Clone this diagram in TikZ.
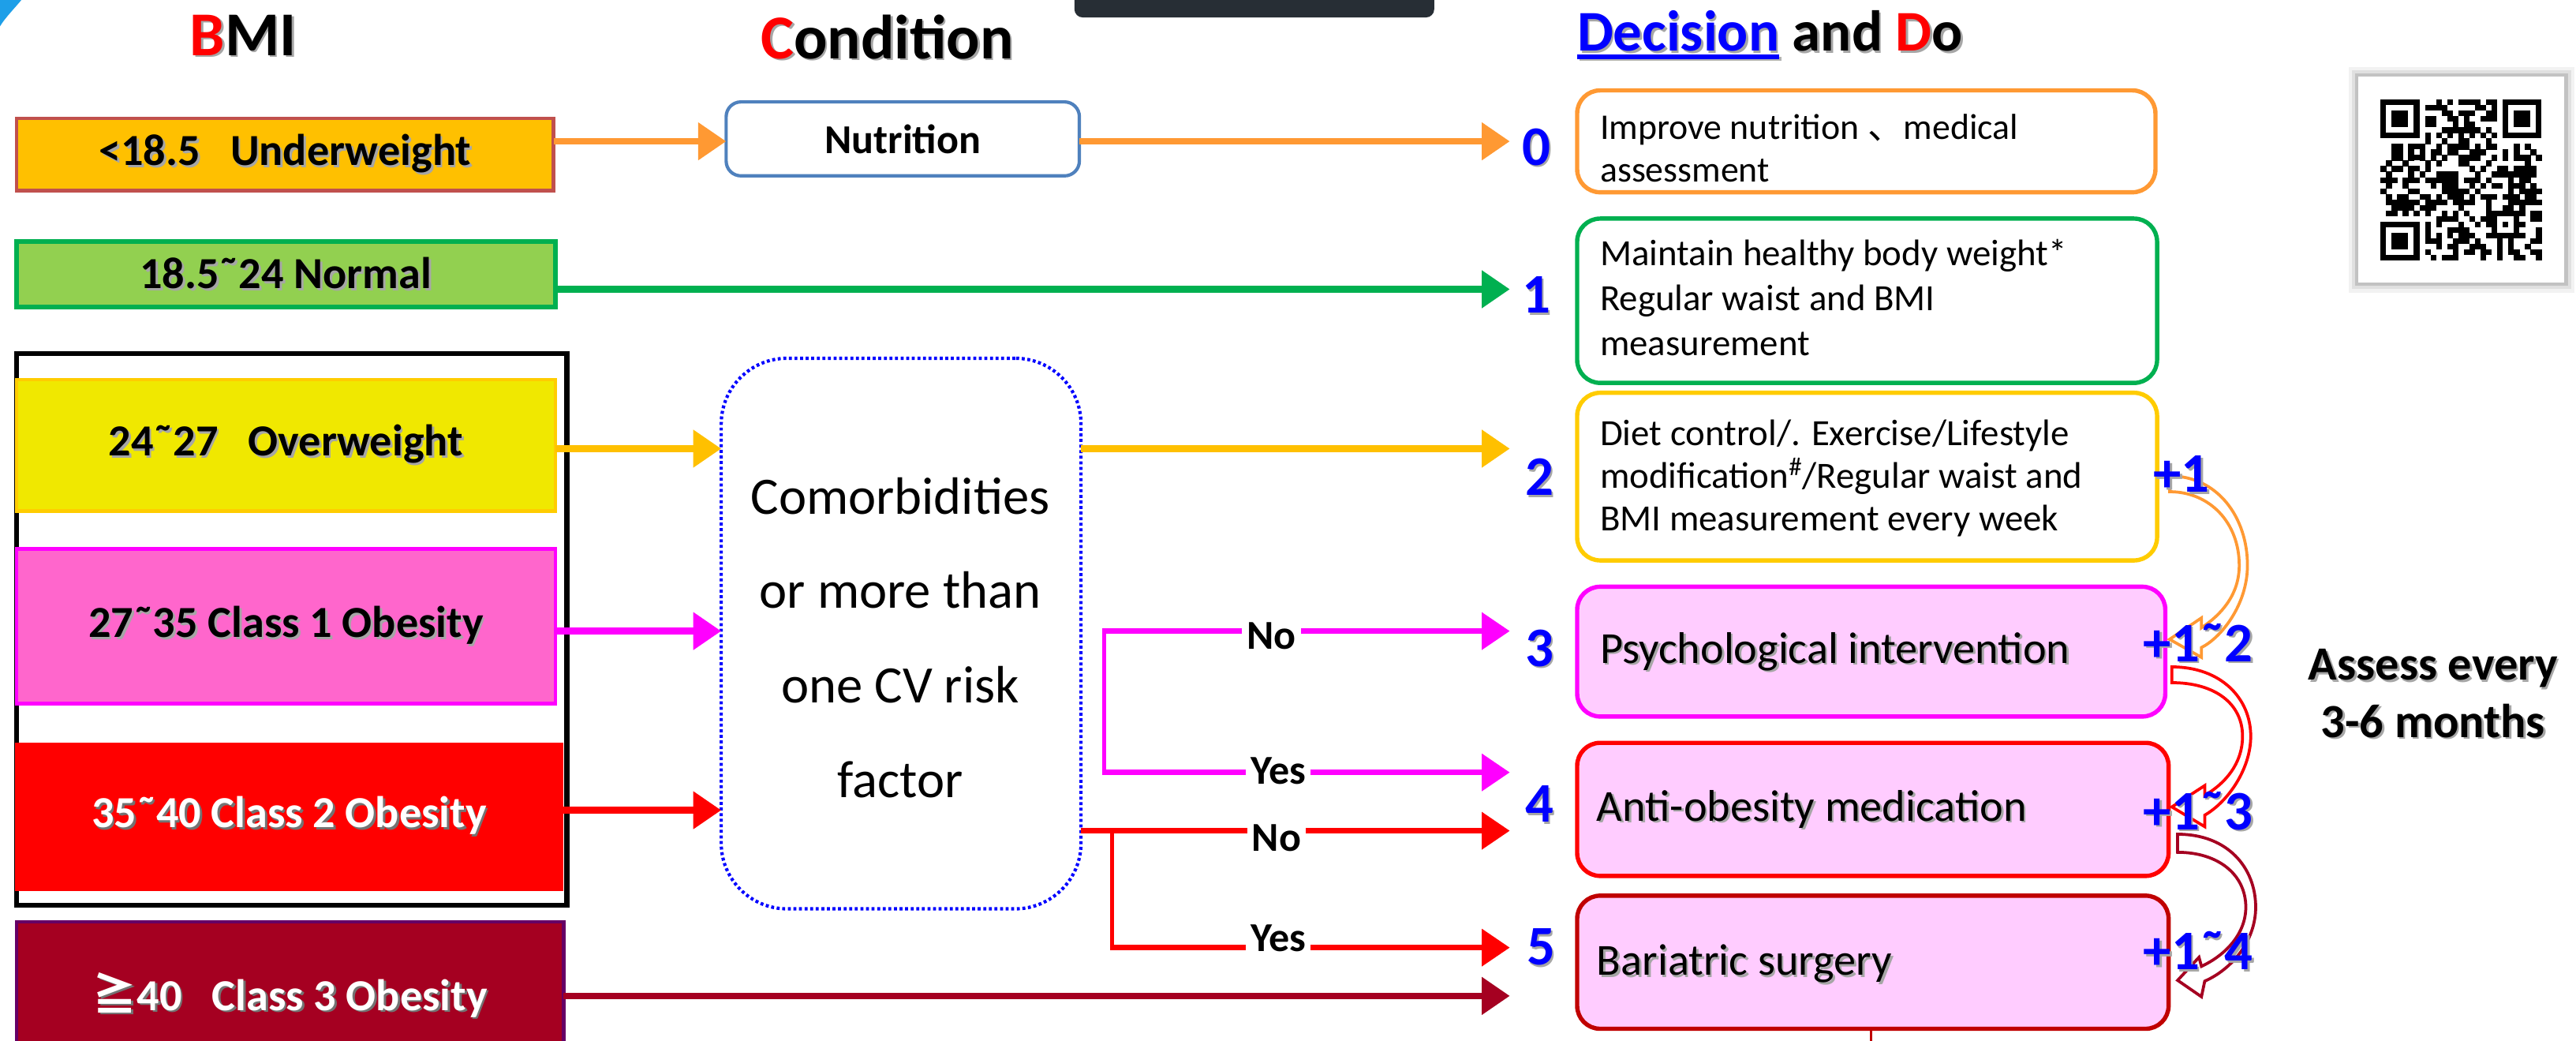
\documentclass[tikz,border=0pt]{standalone}
\usepackage{fontspec}
\setmainfont{Carlito}
\newfontfamily\cjk{Noto Sans CJK SC}
\usetikzlibrary{arrows.meta}

\definecolor{uwFill}{HTML}{FFC000}
\definecolor{uwLine}{HTML}{C0504D}
\definecolor{nmFill}{HTML}{92D050}
\definecolor{nmLine}{HTML}{00B050}
\definecolor{owFill}{HTML}{F0E800}
\definecolor{owLine}{HTML}{FFCC00}
\definecolor{cAFill}{HTML}{FF66CC}
\definecolor{cALine}{HTML}{FF00FF}
\definecolor{cBFill}{HTML}{FF0000}
\definecolor{cCFill}{HTML}{A50021}
\definecolor{cCLine}{HTML}{660066}
\definecolor{nutLine}{HTML}{4F81BD}
\definecolor{orangeArr}{HTML}{FF9933}
\definecolor{yellowArr}{HTML}{FFC000}
\definecolor{pinkFill}{HTML}{FFCCFF}
\definecolor{surgLine}{HTML}{C00000}
\definecolor{barDark}{HTML}{272E35}
\definecolor{numBlue}{HTML}{0000FF}
\definecolor{cornerCyan}{HTML}{1E9FE8}

% font size helper
\newcommand\fs[2]{\fontsize{#1}{#2}\selectfont}
% coloured piece of text (colour dropped inside a shadow copy)
\newcommand\tcol[2]{\textcolor{#1}{#2}}
% text with a soft drop shadow
\newcommand\shd[2][black!35]{\leavevmode\rlap{\kern1.3pt\raisebox{-1.3pt}{\color{#1}\renewcommand\tcol[2]{##2}#2}}#2}

\begin{document}
\begin{tikzpicture}[x=1pt,y=-1pt,
  every node/.style={inner sep=0pt, outer sep=0pt},
  bmibox/.style={draw, line width=2.2pt, anchor=north west, font=\bfseries\fs{27}{32}},
  decbox/.style={draw, line width=2.6pt, rounded corners=14pt, anchor=north west, fill=#1},
  decbox/.default=white,
  arr/.style={line width=4pt, -{Triangle[length=17pt,width=22pt]}},
  brarr/.style={line width=3.5pt, -{Triangle[length=17pt,width=22pt]}},
  yn/.style={fill=white, inner xsep=3pt, inner ysep=1pt, font=\bfseries\fs{25}{30}},
  numlbl/.style={font=\bfseries\fs{34}{40}, text=numBlue},
  hdr/.style={font=\bfseries\fs{38}{44}},
  stepup/.style={line width=1.8pt, line join=miter}]

\useasboundingbox (0,0) rectangle (1568,633);
\fill[white] (0,0) rectangle (1568,633);

% window decorations
\fill[cornerCyan] (0,0) -- (13,0) .. controls (8,6) and (3,11) .. (0,16) -- cycle;
\fill[barDark, rounded corners=5pt] (654,-12) rectangle (873,10.6);

% ---- headers
\node[hdr] (hBMI) at (148,22) {\shd{\tcol{red}{B}MI}};
\node[hdr] (hCond) at (540,23) {\shd{\tcol{red}{C}ondition}};
\node[hdr, font=\bfseries\fs{35}{40}, anchor=base west] (hDecA) at (960,31) {\shd{\tcol{blue}{Decision}}};
\node[hdr, font=\bfseries\fs{35}{40}, anchor=base west] (hDecB) at ([xshift=8pt]hDecA.base east) {\shd{and \tcol{red}{D}o}};
\draw[black!30, line width=2.6pt] ([xshift=1.3pt,yshift=-4.8pt]hDecA.base west) -- ([xshift=1.3pt,yshift=-4.8pt]hDecA.base east);
\draw[blue, line width=2.6pt] ([yshift=-3.5pt]hDecA.base west) -- ([yshift=-3.5pt]hDecA.base east);

% ---- BMI column
\node[draw, line width=3pt, minimum width=335pt, minimum height=336pt, anchor=north west] (frame) at (10,215) {};
\node[bmibox, fill=uwFill, draw=uwLine, minimum width=327pt, minimum height=44pt] (uw) at (10,72) {\shd{<18.5\ \ \ Underweight}};
\node[bmibox, fill=nmFill, draw=nmLine, line width=2.8pt, minimum width=328pt, minimum height=40pt] (nm) at (10,147) {\shd{18.5˜24 Normal}};
\node[bmibox, fill=owFill, draw=owLine, minimum width=328pt, minimum height=80pt] (ow) at (10,231) {\shd{24˜27\ \ \ Overweight}};
\node[bmibox, fill=cAFill, draw=cALine, minimum width=328pt, minimum height=94pt] (cA) at (10,334) {\shd{27˜35 Class 1 Obesity}};
\node[bmibox, fill=cBFill, draw=cBFill, text=white, minimum width=332pt, minimum height=88pt] (cB) at (10,453) {\shd[black!55]{35˜40 Class 2 Obesity}};
\node[bmibox, fill=cCFill, draw=cCLine, text=white, minimum width=333pt, minimum height=90pt] (cC) at (10,561) {\shd[black!55]{{\cjk ≧}40\ \ \ Class 3 Obesity}};

% ---- condition column
\node[draw=nutLine, line width=2pt, rounded corners=9pt, minimum width=215pt, minimum height=45pt, anchor=north west, font=\bfseries\fs{25}{30}] (nut) at (442,62) {Nutrition};
\node[draw=blue, line width=2pt, dash pattern=on 1.8pt off 1.6pt, rounded corners=40pt, minimum width=219pt, minimum height=335pt, anchor=north west] (como) at (439,218) {};
\node[align=center, font=\fs{32}{57.5}] (comoT) at (548,388) {Comorbidities\\or more than\\one CV risk\\factor};

% ---- decision boxes
\node[decbox, draw=orangeArr, minimum width=352pt, minimum height=62pt] (d0) at (960,55) {};
\node[decbox, draw=nmLine, minimum width=353pt, minimum height=100pt] (d1) at (960,133) {};
\node[decbox, draw=owLine, minimum width=353pt, minimum height=102pt] (d2) at (960,239) {};
\node[decbox=pinkFill, draw=cALine, minimum width=358pt, minimum height=79pt] (d3) at (960,357) {};
\node[decbox=pinkFill, draw=red, minimum width=360pt, minimum height=81pt] (d4) at (960,452) {};
\node[decbox=pinkFill, draw=surgLine, minimum width=360pt, minimum height=81pt] (d5) at (960,545) {};
\coordinate (d5tail) at (1139,640);
\draw[surgLine, line width=1.6pt] (d5.south -| d5tail) -- (d5tail);

\node[anchor=west, align=left, font=\fs{22}{26}] (d0t) at (974,90) {Improve nutrition {\cjk 、}medical\\assessment};
\node[anchor=west, align=left, font=\fs{22.5}{27.5}] (d1t) at (974,181) {Maintain healthy body weight*\\Regular waist and BMI\\measurement};
\node[anchor=west, align=left, font=\fs{22.5}{26}] (d2t) at (974,291) {Diet control/. Exercise/Lifestyle\\modification\textsuperscript{\#}/Regular waist and\\BMI measurement every week};
\node[anchor=west, font=\fs{27}{31}] (d3t) at (974,397) {\shd{Psychological intervention}};
\node[anchor=west, font=\fs{27}{31}] (d4t) at (972,493) {\shd{Anti-obesity medication}};
\node[anchor=west, font=\fs{27}{31}] (d5t) at (972,587) {\shd{Bariatric surgery}};

% ---- level numbers
\node[numlbl] (n0) at (935,90) {\shd{0}};
\node[numlbl] (n1) at (935,180) {\shd{1}};
\node[numlbl] (n2) at (937,291) {\shd{2}};
\node[numlbl] (n3) at (937,395) {\shd{3}};
\node[numlbl] (n4) at (937,490) {\shd{4}};
\node[numlbl] (n5) at (938,577) {\shd{5}};

% ---- connectors
\coordinate (tipx) at (919,0);
\coordinate (uwOut) at ([yshift=8pt]uw.east);
\coordinate (nmOut) at ([yshift=-9pt]nm.east);
\coordinate (owOut) at ([yshift=-2pt]ow.east);
\coordinate (cAOut) at ([yshift=-3pt]cA.east);
\coordinate (cBOut) at ([yshift=4pt]cB.east);

\draw[arr, orangeArr] (uwOut) -- (uwOut -| nut.west);
\draw[arr, orangeArr] (uwOut -| nut.east) -- (uwOut -| tipx);
\draw[arr, nmLine] (nmOut) -- (nmOut -| tipx);
\draw[arr, yellowArr] (owOut) -- (owOut -| como.west);
\draw[arr, yellowArr] (owOut -| como.east) -- (owOut -| tipx);
\draw[arr, cALine] (cAOut) -- (cAOut -| como.west);
\draw[arr, red] (cBOut) -- (cBOut -| como.west);
\draw[arr, cCFill] (cC.east) -- (cC.east -| tipx);

% branch after the comorbidity check (class 1)
\coordinate (mgTop) at (672,384);
\coordinate (mgBot) at (672,470);
\draw[line width=2.5pt, cALine] (mgTop) -- (mgBot);
\draw[brarr, cALine] ([xshift=-1.25pt]mgTop) -- (mgTop -| tipx);
\draw[brarr, cALine] ([xshift=-1.25pt]mgBot) -- (mgBot -| tipx);
\node[yn] (noA) at (774,387) {No};
\node[yn] (yesA) at (778,469) {Yes};

% branch after the comorbidity check (class 2)
\coordinate (rdTop) at (677,505.5);
\coordinate (rdBot) at (677,576.6);
\draw[line width=2.5pt, red] (rdTop) -- (rdBot);
\draw[brarr, red] (rdTop -| como.east) -- (rdTop -| tipx);
\draw[brarr, red] ([xshift=-1.25pt]rdBot) -- (rdBot -| tipx);
\node[yn] (noB) at (777,510) {No};
\node[yn] (yesB) at (778,571) {Yes};

% ---- step-up curved arrows
\draw[stepup, orangeArr] (1320.6,289.6) .. controls (1350,289.6) and (1368,315) .. (1368,344)
  .. controls (1368,368) and (1352,388) .. (1340,394) -- (1340,400) -- (1320.6,389) -- (1340,376) -- (1340,382)
  .. controls (1352,374) and (1363,362) .. (1363,344) .. controls (1363,318) and (1345,299.2) .. (1320.6,299.2) -- cycle;
\draw[stepup, red] (1322,405.8) .. controls (1352,405.8) and (1370,425) .. (1370,448)
  .. controls (1370,468) and (1356,488) .. (1342,496) -- (1342,503) -- (1322,491) -- (1342,478) -- (1342,484)
  .. controls (1354,477) and (1365,465) .. (1365,448) .. controls (1365,428) and (1348,415.4) .. (1322,415.4) -- cycle;
\draw[stepup, cCFill] (1325.5,507.6) .. controls (1356,507.6) and (1373,528) .. (1373,552)
  .. controls (1373,573) and (1358,590) .. (1342,597) -- (1340,606.5) -- (1325.5,596.5) -- (1338.5,582.5) -- (1340,588)
  .. controls (1355,581) and (1367,568) .. (1367,552) .. controls (1367,532) and (1350,518.6) .. (1325.5,518.6) -- cycle;

\node[numlbl] (p1) at (1328,289) {\shd{+1}};
\node[numlbl] (p2) at (1338,391.5) {\shd{+1˜2}};
\node[numlbl] (p3) at (1338,494) {\shd{+1˜3}};
\node[numlbl] (p4) at (1338,579) {\shd{+1˜4}};

\node[align=center, font=\bfseries\fs{29}{35}] (assess) at (1481,422.5) {\shd{Assess every}\\\shd{3-6 months}};

% ---- QR card
\fill[black!5] (1429.5,40.6) rectangle (1567,178);
\fill[black!12] (1431.5,42.6) rectangle (1565,176);
\fill[black!24] (1433.5,44.6) rectangle (1563,174);
\fill[white] (1435.5,46.6) rectangle (1561,172);
\def\qx{1449}\def\qy{60.5}\def\qm{3.38}
\pgfmathsetseed{7}
\foreach \i in {0,...,28}{\foreach \j in {0,...,28}{
  \pgfmathtruncatemacro\qrskip{or(or(and(\i<8,\j<8),and(\i<8,\j>20)),or(or(and(\i>20,\j<8),and(and(\i>19,\i<25),and(\j>19,\j<25))),or(\i==6,\j==6)))}
  \pgfmathtruncatemacro\qron{rnd<0.48}
  \ifnum\qrskip=0 \ifnum\qron=1 \fill (\qx+\j*\qm,\qy+\i*\qm) rectangle ++(\qm+0.15,\qm+0.15);\fi\fi
}}
\foreach \fx/\fy in {0/0,22/0,0/22}{
  \fill (\qx+\fx*\qm,\qy+\fy*\qm) rectangle ++(7*\qm,7*\qm);
  \fill[white] (\qx+\fx*\qm+\qm,\qy+\fy*\qm+\qm) rectangle ++(5*\qm,5*\qm);
  \fill (\qx+\fx*\qm+2*\qm,\qy+\fy*\qm+2*\qm) rectangle ++(3*\qm,3*\qm);
}
\foreach \k in {8,10,...,20}{
  \fill (\qx+\k*\qm,\qy+6*\qm) rectangle ++(\qm,\qm);
  \fill (\qx+6*\qm,\qy+\k*\qm) rectangle ++(\qm,\qm);
}
\fill (\qx+20*\qm,\qy+20*\qm) rectangle ++(5*\qm,5*\qm);
\fill[white] (\qx+21*\qm,\qy+21*\qm) rectangle ++(3*\qm,3*\qm);
\fill (\qx+22*\qm,\qy+22*\qm) rectangle ++(\qm,\qm);
\end{tikzpicture}
\end{document}
